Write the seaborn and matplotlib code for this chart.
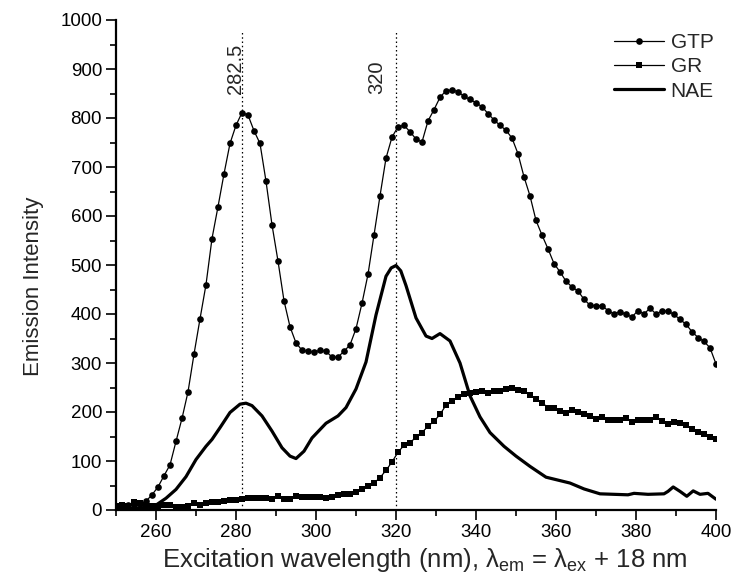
import numpy as np
import matplotlib
matplotlib.use('Agg')
import matplotlib.pyplot as plt
import seaborn as sns
from matplotlib.ticker import MultipleLocator

# excitation wavelengths (nm), 1.5 nm steps
wl = [250.0, 251.5, 253.0, 254.5, 256.0, 257.5, 259.0, 260.5, 262.0, 263.5,
      265.0, 266.5, 268.0, 269.5, 271.0, 272.5, 274.0, 275.5, 277.0, 278.5,
      280.0, 281.5, 283.0, 284.5, 286.0, 287.5, 289.0, 290.5, 292.0, 293.5,
      295.0, 296.5, 298.0, 299.5, 301.0, 302.5, 304.0, 305.5, 307.0, 308.5,
      310.0, 311.5, 313.0, 314.5, 316.0, 317.5, 319.0, 320.5, 322.0, 323.5,
      325.0, 326.5, 328.0, 329.5, 331.0, 332.5, 334.0, 335.5, 337.0, 338.5,
      340.0, 341.5, 343.0, 344.5, 346.0, 347.5, 349.0, 350.5, 352.0, 353.5,
      355.0, 356.5, 358.0, 359.5, 361.0, 362.5, 364.0, 365.5, 367.0, 368.5,
      370.0, 371.5, 373.0, 374.5, 376.0, 377.5, 379.0, 380.5, 382.0, 383.5,
      385.0, 386.5, 388.0, 389.5, 391.0, 392.5, 394.0, 395.5, 397.0, 398.5,
      400.0]

gtp = [8, 8, 10, 10, 12, 18, 31, 47, 70, 92,
       140, 187, 241, 318, 390, 460, 554, 619, 686, 748,
       785, 811, 806, 774, 748, 671, 582, 508, 427, 374,
       341, 326, 324, 322, 326, 324, 312, 312, 324, 337,
       370, 422, 481, 561, 641, 718, 761, 782, 785, 772,
       757, 751, 794, 817, 842, 856, 857, 854, 844, 838,
       831, 823, 809, 796, 785, 775, 759, 727, 680, 641,
       591, 561, 533, 503, 486, 467, 455, 447, 430, 418,
       417, 417, 407, 400, 405, 399, 394, 407, 400, 412,
       400, 406, 406, 399, 389, 379, 364, 352, 344, 331,
       298]

gr = [8, 10, 8, 16, 14, 10, 8, 8, 10, 10,
      7, 7, 9, 14, 10, 15, 17, 16, 19, 21,
      21, 23, 25, 25, 25, 25, 23, 29, 22, 23,
      29, 26, 26, 26, 26, 25, 26, 30, 33, 33,
      36, 43, 49, 55, 66, 81, 98, 118, 132, 136,
      150, 158, 171, 181, 195, 214, 222, 230, 237, 238,
      240, 243, 239, 242, 242, 247, 248, 244, 242, 235,
      226, 219, 209, 209, 203, 198, 204, 199, 196, 192,
      185, 189, 183, 183, 184, 187, 180, 183, 184, 184,
      190, 182, 176, 180, 177, 174, 165, 160, 156, 149,
      145]

nae_wl = [250, 254, 258, 260, 262.5, 265, 267.5, 270, 272.5, 274, 276, 278.5,
          281, 282.5, 284, 286.5, 289, 291.5, 293.5, 295, 297, 299, 302.5,
          305.5, 307.5, 310, 312.5, 315, 317.5, 318.8, 320, 321.2, 322.5,
          325, 327.5, 329, 331, 333.5, 336, 338.5, 341, 343.5, 347, 350,
          353.5, 357.5, 361, 363.5, 367, 371, 374.5, 378, 379.5, 383, 387,
          388, 389.3, 391, 392.7, 394.3, 396, 398, 400]
nae = [2, 3, 5, 10, 24, 42, 68, 103, 130, 144, 168, 199,
       216, 218, 213, 192, 161, 127, 110, 105, 120, 147, 177,
       192, 209, 247, 302, 398, 477, 494, 499, 488, 458,
       392, 355, 350, 360, 345, 300, 233, 190, 158, 130, 110,
       89, 67, 60, 55, 43, 33, 32, 31, 34, 32, 33,
       38, 47, 38, 28, 39, 32, 34, 22]

peaks = [281.5, 320]
peak_labels = ['282.5', '320']

sns.set_style('ticks')
plt.rcParams['font.family'] = ['Liberation Sans', 'DejaVu Sans']
plt.rcParams['mathtext.fontset'] = 'custom'
plt.rcParams['mathtext.rm'] = 'Liberation Sans'
plt.rcParams['mathtext.it'] = 'Liberation Sans:italic'

fig = plt.figure(figsize=(7.34, 5.88), dpi=100)
ax = fig.add_axes([116/734, 78/588, 600/734, 490/588])

sns.lineplot(x=wl, y=gtp, ax=ax, color='black', linewidth=0.9, marker='o',
             markersize=4.8, markeredgewidth=0, label='GTP')
sns.lineplot(x=wl, y=gr, ax=ax, color='black', linewidth=0.9, marker='s',
             markersize=4.4, markeredgewidth=0, label='GR')
sns.lineplot(x=nae_wl, y=nae, ax=ax, color='black', linewidth=2.3,
             label='NAE')

for xp in peaks:
    ax.plot([xp, xp], [0, 980], color='black', linewidth=0.9,
            linestyle=(0, (1.2, 2.2)))
ax.text(279.8, 850, peak_labels[0], rotation=90, ha='center', va='bottom',
        fontsize=14.5)
ax.text(315.3, 850, peak_labels[1], rotation=90, ha='center', va='bottom',
        fontsize=14.5)

ax.set_xlim(250, 400)
ax.set_ylim(0, 1000)
ax.set_xticks([260, 280, 300, 320, 340, 360, 380, 400])
ax.xaxis.set_minor_locator(MultipleLocator(10))
ax.yaxis.set_major_locator(MultipleLocator(100))
ax.yaxis.set_minor_locator(MultipleLocator(50))
ax.tick_params(which='major', direction='out', length=7, width=1.2,
               labelsize=13.5, pad=3, color='black', labelcolor='black')
ax.tick_params(which='minor', direction='out', length=4, width=1.2,
               color='black')
for s in ['left', 'bottom']:
    ax.spines[s].set_linewidth(1.6)
    ax.spines[s].set_color('black')
sns.despine(ax=ax)

ax.set_xlabel(r'Excitation wavelength (nm), λ$_{\mathrm{em}}$ = λ$_{\mathrm{ex}}$ + 18 nm',
              fontsize=18.5)
ax.set_ylabel('Emission Intensity', fontsize=16)
ax.xaxis.set_label_coords(0.515, -0.074)
ax.yaxis.set_label_coords(-0.12, 0.457)

leg = ax.legend(loc='upper right', frameon=False, fontsize=15,
                handlelength=2.4, handletextpad=0.3, labelspacing=0.25,
                borderaxespad=0, bbox_to_anchor=(1.01, 0.99))

fig.savefig('out.png', dpi=100)
